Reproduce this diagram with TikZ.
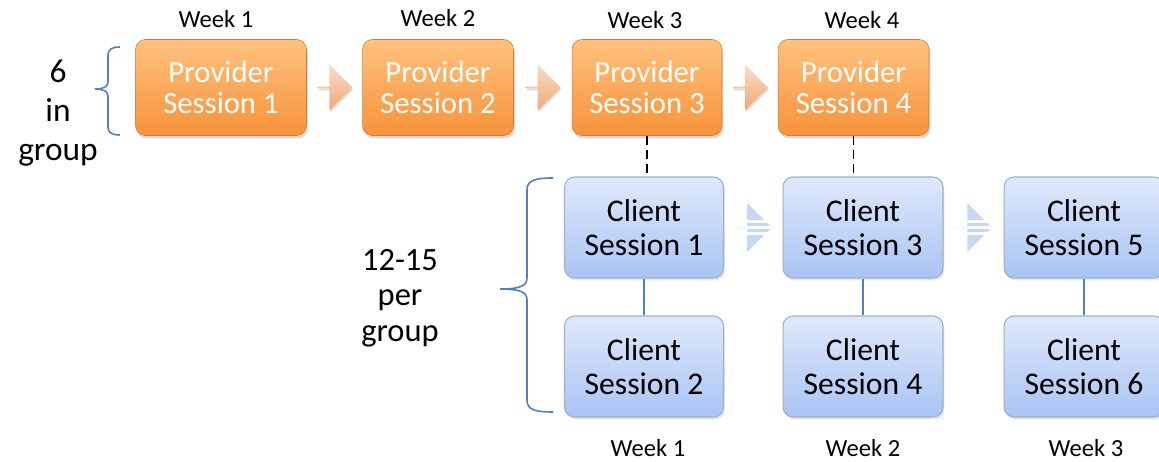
\documentclass[tikz,border=0pt]{standalone}
\usepackage{fontspec}
\setmainfont{Carlito}
\usetikzlibrary{shapes.arrows,shadows,calc}
\definecolor{orTop}{HTML}{FFC27F}
\definecolor{orBot}{HTML}{F7923A}
\definecolor{clTop}{HTML}{E0E9FB}
\definecolor{clBot}{HTML}{A8C4F4}
\definecolor{clBorder}{HTML}{9FB0C9}
\definecolor{braceBlue}{HTML}{4F81BD}
\definecolor{pchTop}{HTML}{FCDCC6}
\definecolor{pchBot}{HTML}{EFA878}
\definecolor{stripeA}{HTML}{C8D7F3}
\begin{document}
\begin{tikzpicture}[x=0.02cm,y=-0.02cm,
 prov/.style={rectangle, rounded corners=0.2cm, top color=orTop, bottom color=orBot,
   draw=orBot!85!black, line width=0.3pt, text=white, align=center,
   font=\fontsize{17.5}{17.8}\selectfont, minimum height=1.92cm,
   drop shadow={opacity=0.3, shadow xshift=0.03cm, shadow yshift=-0.06cm}},
 client/.style={rectangle, rounded corners=0.2cm, top color=clTop, bottom color=clBot,
   draw=clBorder, line width=0.6pt, text=black, align=center,
   font=\fontsize{18}{19.3}\selectfont, minimum height=2.02cm, minimum width=3.18cm,
   drop shadow={opacity=0.2, shadow xshift=0.03cm, shadow yshift=-0.05cm}},
 weeklbl/.style={font=\fontsize{14}{16}\selectfont, text=black},
 sidelbl/.style={font=\fontsize{19}{22}\selectfont, align=center, text=black},
 sidelblb/.style={font=\fontsize{18.5}{20.2}\selectfont, align=center, text=black},
 peach/.style={single arrow, single arrow head extend=0.2cm, minimum width=0.92cm,
   minimum height=0.7cm, inner sep=0pt, top color=pchTop, bottom color=pchBot, draw=none,
   drop shadow={opacity=0.25, shadow xshift=0.02cm, shadow yshift=-0.04cm}},
 striped/.style={single arrow, single arrow head extend=0.22cm, minimum width=0.98cm,
   minimum height=0.72cm, inner sep=0pt, fill=stripeA, draw=none,
   path picture={
     \foreach \k in {-0.12,0,0.12}
       \draw[white, line width=1.3pt] ([yshift=\k cm]path picture bounding box.west) -- ([yshift=\k cm]path picture bounding box.east);
   }},
 bracestyle/.style={draw=braceBlue, line width=0.9pt},
 dashlink/.style={draw=black, line width=0.9pt, dash pattern=on 5pt off 3pt},
 solidlink/.style={draw=braceBlue, line width=0.8pt}
]
\useasboundingbox (0,0) rectangle (1159,462);

% provider sessions
\node[prov, minimum width=3.42cm] (p1) at (221,87.5) {Provider\\Session 1};
\node[prov, minimum width=3.02cm] (p2) at (438,87.5) {Provider\\Session 2};
\node[prov, minimum width=3.0cm] (p3) at (647,87.5) {Provider\\Session 3};
\node[prov, minimum width=3.02cm] (p4) at (853.5,87.5) {Provider\\Session 4};

\node[weeklbl] (w1) at (216,19) {Week 1};
\node[weeklbl] (w2) at (438,18) {Week 2};
\node[weeklbl] (w3) at (645,20) {Week 3};
\node[weeklbl] (w4) at (862,20) {Week 4};

% arrows between providers
\node[peach] (a1) at ($(p1.east)!0.5!(p2.west)$) {};
\node[peach] (a2) at ($(p2.east)!0.5!(p3.west)$) {};
\node[peach] (a3) at ($(p3.east)!0.5!(p4.west)$) {};

% client sessions
\node[client] (c1) at (644,227.5) {Client\\Session 1};
\node[client] (c2) at (644,366.5) {Client\\Session 2};
\node[client, minimum width=3.2cm] (c3) at (863,227.5) {Client\\Session 3};
\node[client, minimum width=3.2cm] (c4) at (863,366.5) {Client\\Session 4};
\node[client, minimum width=3.2cm] (c5) at (1084,227.5) {Client\\Session 5};
\node[client, minimum width=3.2cm] (c6) at (1084,366.5) {Client\\Session 6};

\node[weeklbl] (v1) at (648,448) {Week 1};
\node[weeklbl] (v2) at (863,448) {Week 2};
\node[weeklbl] (v3) at (1086,448) {Week 3};

% striped arrows
\node[striped] (b1) at ($(c1.east)!0.5!(c3.west)$) {};
\node[striped] (b2) at ($(c3.east)!0.5!(c5.west)$) {};

% links
\draw[dashlink] (p3.south) -- (p3.south |- c1.north);
\draw[dashlink] (p4.south) -- (p4.south |- c3.north);
\draw[solidlink] (c1.south) -- (c2.north);
\draw[solidlink] (c3.south) -- (c4.north);
\draw[solidlink] (c5.south) -- (c6.north);

% side labels and braces
\node[sidelbl] (g1) at (58,113) {6\\in\\group};
\node[sidelblb] (g2) at (400,298) {12-15\\per\\group};

\coordinate (br1a) at (120,47);
\coordinate (br1b) at (120,135);
\coordinate (br1t) at (95,89);
\draw[bracestyle] (br1a) .. controls (112,47) and (108,49) .. (108,56) -- (108,82)
  .. controls (108,87) and (103,89) .. (br1t)
  .. controls (103,89) and (108,91) .. (108,96) -- (108,127)
  .. controls (108,133) and (112,135) .. (br1b);

\coordinate (br2a) at (553,178);
\coordinate (br2b) at (553,412);
\coordinate (br2t) at (500,289);
\draw[bracestyle] (br2a) .. controls (536,178) and (527,180) .. (527,190) -- (527,278)
  .. controls (527,286) and (520,289) .. (br2t)
  .. controls (520,289) and (527,292) .. (527,300) -- (527,400)
  .. controls (527,410) and (536,412) .. (br2b);
\end{tikzpicture}
\end{document}
